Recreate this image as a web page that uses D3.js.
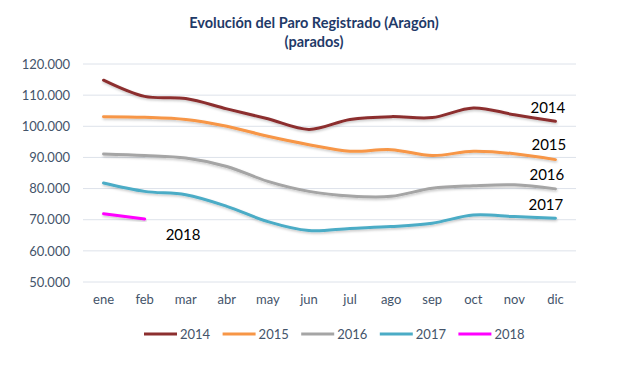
<!DOCTYPE html>
<html lang="es">
<head>
<meta charset="UTF-8">
<script src="https://cdn.jsdelivr.net/npm/d3@7"></script>
<style>
  body { margin: 0; background: #fff; }
  svg text { font-family: Lato, "Open Sans", sans-serif; }
  .grid line { stroke: #dde2ea; stroke-width: 1; }
  .axis text { fill: #44546a; font-size: 13px; }
</style>
</head>
<body>
<div id="chart"></div>
<script>
  // data (thousands of people)
  var months = ["ene","feb","mar","abr","may","jun","jul","ago","sep","oct","nov","dic"];
  var years = ["2014","2015","2016","2017","2018"];
  var colors = ["#8c2f2f","#f79646","#a5a5a5","#4bacc6","#ff00ff"];
  var v2014 = [114.8,109.6,108.9,105.6,102.4,99.0,102.2,103.1,102.8,105.9,103.7,101.6];
  var v2015 = [103.1,102.9,102.2,100.0,96.8,94.1,92.0,92.5,90.6,92.0,91.2,89.3];
  var v2016 = [91.1,90.6,89.8,87.1,82.3,79.1,77.6,77.5,80.1,80.9,81.2,79.9];
  var v2017 = [81.8,79.1,78.0,74.3,69.4,66.5,67.2,67.8,68.9,71.5,71.0,70.5];
  var v2018 = [71.9,70.2];
  var yTicks = [50,60,70,80,90,100,110,120];

  var series = [v2014, v2015, v2016, v2017, v2018];
  // where each end-of-line label sits (offset from the last point)
  var labelOffset = [[-25,-13],[-24,-15],[-26,-14],[-27,-13],[21,16]];

  const width = 630, height = 371;
  const margin = {top: 64, left: 83, right: 54, bottom: 89};

  const svg = d3.select("#chart").append("svg")
      .attr("width", width).attr("height", height);

  const defs = svg.append("defs");
  const f = defs.append("filter").attr("id","shadow")
      .attr("x","-5%").attr("y","-20%").attr("width","110%").attr("height","160%");
  f.append("feDropShadow").attr("dx",0.5).attr("dy",1.5).attr("stdDeviation",1)
      .attr("flood-color","#000").attr("flood-opacity",0.22);

  const x = d3.scaleBand().domain(months)
      .range([margin.left, width - margin.right]);
  const y = d3.scaleLinear().domain([50,120])
      .range([height - margin.bottom, margin.top]);

  // title
  svg.append("text").attr("x", 314).attr("y", 28).attr("text-anchor","middle")
     .attr("font-size", 14.5).attr("font-weight","bold").attr("fill","#1f3a68")
     .text("Evolución del Paro Registrado (Aragón)");
  svg.append("text").attr("x", 314).attr("y", 47).attr("text-anchor","middle")
     .attr("font-size", 14.5).attr("font-weight","bold").attr("fill","#1f3a68")
     .text("(parados)");

  // gridlines
  svg.append("g").attr("class","grid")
     .selectAll("line").data(yTicks).enter().append("line")
     .attr("x1", margin.left).attr("x2", width - margin.right)
     .attr("y1", d => y(d)).attr("y2", d => y(d));

  const fmt = d => d3.format(",")(d * 1000).replace(/,/g, ".");

  const gy = svg.append("g").attr("class","axis")
     .attr("transform", `translate(${margin.left},0)`)
     .call(d3.axisLeft(y).tickValues(yTicks).tickFormat(fmt).tickSize(0).tickPadding(13));
  gy.select(".domain").remove();

  const gx = svg.append("g").attr("class","axis")
     .attr("transform", `translate(0,${height - margin.bottom})`)
     .call(d3.axisBottom(x).tickSize(0).tickPadding(13));
  gx.select(".domain").remove();

  const line = d3.line()
     .x((d,i) => x(months[i]) + x.bandwidth()/2)
     .y(d => y(d))
     .curve(d3.curveCatmullRom.alpha(0.5));

  svg.append("g").selectAll("path").data(series).enter().append("path")
     .attr("d", d => line(d))
     .attr("fill","none")
     .attr("stroke", (d,i) => colors[i])
     .attr("stroke-width", 3)
     .attr("stroke-linecap","round")
     .attr("filter","url(#shadow)");

  // year labels near line ends
  svg.append("g").selectAll("text").data(series).enter().append("text")
     .attr("x", (d,i) => x(months[d.length-1]) + x.bandwidth()/2 + labelOffset[i][0])
     .attr("y", (d,i) => y(d[d.length-1]) + labelOffset[i][1] + 5)
     .attr("font-size", 15).attr("fill","#000")
     .text((d,i) => years[i]);

  // legend
  const leg = svg.append("g").attr("transform","translate(144,334)");
  const item = leg.selectAll("g").data(years).enter().append("g")
     .attr("transform", (d,i) => `translate(${i*78.6},0)`);
  item.append("line").attr("x1",0).attr("x2",33).attr("y1",0).attr("y2",0)
     .attr("stroke", (d,i) => colors[i]).attr("stroke-width",3);
  item.append("text").attr("x",36).attr("y",4.5)
     .attr("font-size",13).attr("fill","#44546a").text(d => d);
</script>
</body>
</html>
